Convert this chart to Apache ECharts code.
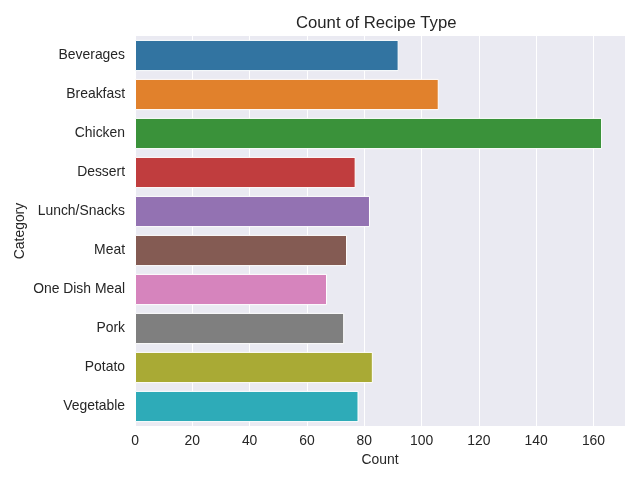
<!DOCTYPE html>
<html>
<head>
<meta charset="utf-8">
<script src="https://cdn.jsdelivr.net/npm/echarts@6/dist/echarts.min.js"></script>
<style>html,body{margin:0;padding:0;background:#fff}#c{width:640px;height:480px}</style>
</head>
<body>
<div id="c"></div>
<script>
const categories = ['Beverages','Breakfast','Chicken','Dessert','Lunch/Snacks','Meat','One Dish Meal','Pork','Potato','Vegetable'];
const counts = [92,106,163,77,82,74,67,73,83,78];
const colors = ['#3274a1','#e1812c','#3a923a','#c03d3e','#9372b2','#845b53','#d684bd','#7f7f7f','#a9aa35','#2eabb8'];
const xTicks = [0,20,40,60,80,100,120,140,160];

const chart = echarts.init(document.getElementById('c'), null, {renderer:'canvas'});
const font = 'Liberation Sans, Arial, sans-serif';
chart.setOption({
  animation:false,
  textStyle:{fontFamily:font},
  title:{text:'Count of Recipe Type', left:291, top:10,
    textStyle:{fontFamily:font, fontSize:16.7, fontWeight:'normal', color:'#262626'}},
  grid:{left:135, right:15, top:36, bottom:54, show:true, backgroundColor:'#eaeaf2', borderWidth:0},
  xAxis:{type:'value', min:0, max:171, interval:20,
    name:'Count', nameLocation:'middle', nameGap:25,
    nameTextStyle:{fontFamily:font, fontSize:13.9, color:'#262626'},
    axisLine:{show:false}, axisTick:{show:false},
    axisLabel:{fontFamily:font, fontSize:13.9, color:'#262626', margin:8,
      formatter:function(v){return xTicks.indexOf(v)>=0 ? String(v) : '';}},
    splitLine:{show:true, lineStyle:{color:'#ffffff', width:1}}},
  yAxis:{type:'category', data:categories, inverse:true,
    name:'Category', nameLocation:'middle', nameGap:108, nameRotate:90, nameMoveOverlap:false,
    nameTextStyle:{fontFamily:font, fontSize:13.9, color:'#262626'},
    axisLine:{show:false}, axisTick:{show:false}, splitLine:{show:false},
    axisLabel:{fontFamily:font, fontSize:13.9, color:'#262626', margin:10}},
  series:[{type:'bar', barCategoryGap:'20%',
    data:counts.map((v,i)=>({value:v, itemStyle:{color:colors[i]}})),
    itemStyle:{borderColor:'#ffffff', borderWidth:1}}]
});
</script>
</body>
</html>
